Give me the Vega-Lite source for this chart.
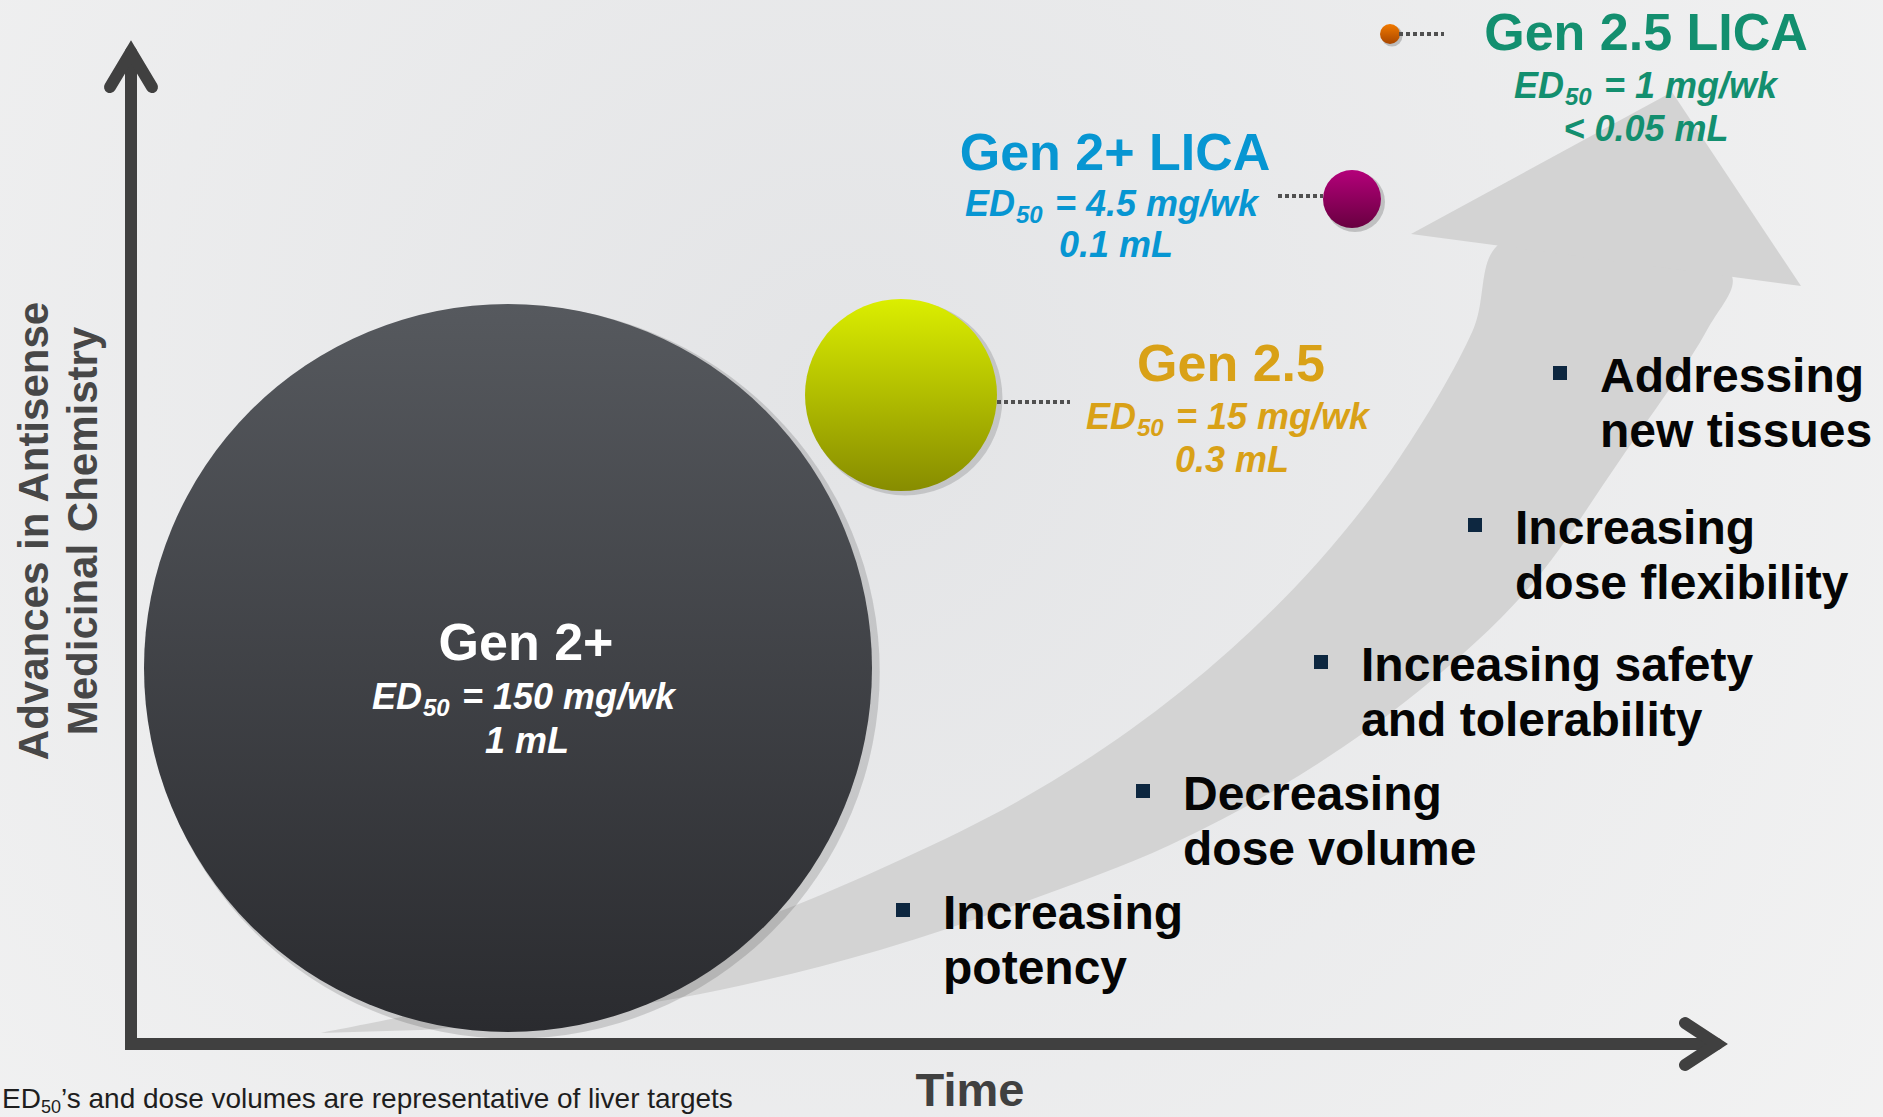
{
  "$schema": "https://vega.github.io/schema/vega-lite/v6.json",
  "width": 1883,
  "height": 1117,
  "autosize": "none",
  "padding": 0,
  "background": "#ededee",
  "view": {
    "stroke": null,
    "fill": {
      "gradient": "radial",
      "x1": 0.45, "y1": 0.42, "r1": 0,
      "x2": 0.45, "y2": 0.42, "r2": 0.75,
      "stops": [
        {"offset": 0, "color": "#e3e4e6"},
        {"offset": 1, "color": "#f4f4f4"}
      ]
    }
  },
  "config": {"font": "Liberation Sans"},
  "datasets": {
    "bandBody": [
      {"i": 0, "x": 320, "y": 1033},
      {"i": 1, "x": 480, "y": 1000},
      {"i": 2, "x": 630, "y": 960},
      {"i": 3, "x": 770, "y": 915},
      {"i": 4, "x": 900, "y": 860},
      {"i": 5, "x": 1020, "y": 800},
      {"i": 6, "x": 1130, "y": 730},
      {"i": 7, "x": 1230, "y": 650},
      {"i": 8, "x": 1320, "y": 560},
      {"i": 9, "x": 1400, "y": 457},
      {"i": 10, "x": 1473, "y": 330},
      {"i": 11, "x": 1502, "y": 242},
      {"i": 12, "x": 1731, "y": 274},
      {"i": 13, "x": 1707, "y": 330},
      {"i": 14, "x": 1620, "y": 460},
      {"i": 15, "x": 1527, "y": 590},
      {"i": 16, "x": 1420, "y": 690},
      {"i": 17, "x": 1300, "y": 775},
      {"i": 18, "x": 1170, "y": 845},
      {"i": 19, "x": 1030, "y": 900},
      {"i": 20, "x": 880, "y": 950},
      {"i": 21, "x": 720, "y": 990},
      {"i": 22, "x": 550, "y": 1018},
      {"i": 23, "x": 420, "y": 1030}
    ],
    "arrowHead": [
      {"i": 0, "x": 1411, "y": 234},
      {"i": 1, "x": 1672, "y": 92},
      {"i": 2, "x": 1801, "y": 286}
    ],
    "axes": [
      {"part": "main", "i": 0, "x": 131, "y": 52},
      {"part": "main", "i": 1, "x": 131, "y": 1044},
      {"part": "main", "i": 2, "x": 1717, "y": 1044},
      {"part": "up", "i": 0, "x": 110, "y": 87},
      {"part": "up", "i": 1, "x": 131, "y": 52},
      {"part": "up", "i": 2, "x": 152, "y": 87},
      {"part": "right", "i": 0, "x": 1685, "y": 1023},
      {"part": "right", "i": 1, "x": 1717, "y": 1044},
      {"part": "right", "i": 2, "x": 1685, "y": 1065}
    ],
    "circles": [
      {"name": "Gen 2+", "x": 508, "y": 668},
      {"name": "Gen 2.5", "x": 901, "y": 395},
      {"name": "Gen 2+ LICA", "x": 1352, "y": 199},
      {"name": "Gen 2.5 LICA", "x": 1390, "y": 34}
    ],
    "connectors": [
      {"name": "Gen 2.5", "x": 997, "x2": 1070, "y": 402},
      {"name": "Gen 2+ LICA", "x": 1278, "x2": 1323, "y": 196},
      {"name": "Gen 2.5 LICA", "x": 1399, "x2": 1444, "y": 34}
    ],
    "labels": [
      {"group": "Gen 2+", "kind": "head", "text": "Gen 2+", "x": 526, "y": 660},
      {"group": "Gen 2+", "kind": "detail", "text": "1 mL", "x": 527, "y": 753},
      {"group": "Gen 2.5", "kind": "head", "text": "Gen 2.5", "x": 1231, "y": 381},
      {"group": "Gen 2.5", "kind": "detail", "text": "0.3 mL", "x": 1232, "y": 472},
      {"group": "Gen 2+ LICA", "kind": "head", "text": "Gen 2+ LICA", "x": 1115, "y": 170},
      {"group": "Gen 2+ LICA", "kind": "detail", "text": "0.1 mL", "x": 1116, "y": 257},
      {"group": "Gen 2.5 LICA", "kind": "head", "text": "Gen 2.5 LICA", "x": 1646, "y": 50},
      {"group": "Gen 2.5 LICA", "kind": "detail", "text": "< 0.05 mL", "x": 1646, "y": 141}
    ],
    "edLines": [
      {"group": "Gen 2+", "x": 372, "y": 709, "rest": "= 150 mg/wk"},
      {"group": "Gen 2.5", "x": 1086, "y": 429, "rest": "= 15 mg/wk"},
      {"group": "Gen 2+ LICA", "x": 965, "y": 216, "rest": "= 4.5 mg/wk"},
      {"group": "Gen 2.5 LICA", "x": 1514, "y": 98, "rest": "= 1 mg/wk"}
    ],
    "bullets": [
      {"text": "Addressing\nnew tissues", "x": 1560, "y": 373},
      {"text": "Increasing\ndose flexibility", "x": 1475, "y": 525},
      {"text": "Increasing safety\nand  tolerability", "x": 1321, "y": 662},
      {"text": "Decreasing\ndose volume", "x": 1143, "y": 791},
      {"text": "Increasing\npotency", "x": 903, "y": 910}
    ],
    "axisTitles": [
      {"text": "Advances in Antisense", "x": 48, "y": 531},
      {"text": "Medicinal Chemistry", "x": 97, "y": 531}
    ],
    "timeTitle": [
      {"text": "Time", "x": 970, "y": 1106}
    ],
    "footnote": [
      {"text": "’s and dose volumes are representative of liver targets", "x": 2, "y": 1108}
    ]
  },
  "layer": [
    {
      "data": {"name": "bandBody"},
      "mark": {"type": "line", "filled": true, "fill": "#d3d3d3", "strokeWidth": 0, "interpolate": "catmull-rom"},
      "encoding": {
        "x": {"field": "x", "type": "quantitative", "scale": {"domain": [0, 1883], "nice": false, "zero": false}, "axis": null},
        "y": {"field": "y", "type": "quantitative", "scale": {"domain": [0, 1117], "nice": false, "zero": false, "reverse": true}, "axis": null},
        "order": {"field": "i", "type": "quantitative"}
      }
    },
    {
      "data": {"name": "arrowHead"},
      "mark": {"type": "line", "filled": true, "fill": "#d3d3d3", "strokeWidth": 0},
      "encoding": {
        "x": {"field": "x", "type": "quantitative", "scale": {"domain": [0, 1883], "nice": false, "zero": false}, "axis": null},
        "y": {"field": "y", "type": "quantitative", "scale": {"domain": [0, 1117], "nice": false, "zero": false, "reverse": true}, "axis": null},
        "order": {"field": "i", "type": "quantitative"}
      }
    },
    {
      "data": {"name": "axes"},
      "mark": {"type": "line", "color": "#404040", "strokeWidth": 12, "strokeCap": "round", "strokeJoin": "miter", "strokeMiterLimit": 10},
      "encoding": {
        "x": {"field": "x", "type": "quantitative", "scale": {"domain": [0, 1883], "nice": false, "zero": false}, "axis": null},
        "y": {"field": "y", "type": "quantitative", "scale": {"domain": [0, 1117], "nice": false, "zero": false, "reverse": true}, "axis": null},
        "detail": {"field": "part", "type": "nominal"},
        "order": {"field": "i", "type": "quantitative"}
      }
    },
    {
      "data": {"name": "circles"},
      "transform": [{"filter": "datum.name === 'Gen 2+'"}],
      "mark": {"type": "point", "shape": "circle", "filled": true, "fill": "#000000", "opacity": 0.14, "strokeWidth": 0, "size": 538000, "xOffset": 5, "yOffset": 4},
      "encoding": {
        "x": {"field": "x", "type": "quantitative", "scale": {"domain": [0, 1883], "nice": false, "zero": false}, "axis": null},
        "y": {"field": "y", "type": "quantitative", "scale": {"domain": [0, 1117], "nice": false, "zero": false, "reverse": true}, "axis": null}
      }
    },
    {
      "data": {"name": "circles"},
      "transform": [{"filter": "datum.name === 'Gen 2+'"}],
      "mark": {"type": "point", "shape": "circle", "filled": true, "opacity": 1, "strokeWidth": 0, "size": 529984,
        "fill": {"gradient": "linear", "x1": 0, "y1": 0, "x2": 0, "y2": 1, "stops": [{"offset": 0, "color": "#56595e"}, {"offset": 1, "color": "#2a2b2f"}]}},
      "encoding": {
        "x": {"field": "x", "type": "quantitative", "scale": {"domain": [0, 1883], "nice": false, "zero": false}, "axis": null},
        "y": {"field": "y", "type": "quantitative", "scale": {"domain": [0, 1117], "nice": false, "zero": false, "reverse": true}, "axis": null}
      }
    },
    {
      "data": {"name": "circles"},
      "transform": [{"filter": "datum.name === 'Gen 2.5'"}],
      "mark": {"type": "point", "shape": "circle", "filled": true, "fill": "#000000", "opacity": 0.14, "strokeWidth": 0, "size": 38000, "xOffset": 4, "yOffset": 3},
      "encoding": {
        "x": {"field": "x", "type": "quantitative", "scale": {"domain": [0, 1883], "nice": false, "zero": false}, "axis": null},
        "y": {"field": "y", "type": "quantitative", "scale": {"domain": [0, 1117], "nice": false, "zero": false, "reverse": true}, "axis": null}
      }
    },
    {
      "data": {"name": "circles"},
      "transform": [{"filter": "datum.name === 'Gen 2.5'"}],
      "mark": {"type": "point", "shape": "circle", "filled": true, "opacity": 1, "strokeWidth": 0, "size": 36864,
        "fill": {"gradient": "linear", "x1": 0, "y1": 0, "x2": 0, "y2": 1, "stops": [{"offset": 0, "color": "#dbee00"}, {"offset": 1, "color": "#878c00"}]}},
      "encoding": {
        "x": {"field": "x", "type": "quantitative", "scale": {"domain": [0, 1883], "nice": false, "zero": false}, "axis": null},
        "y": {"field": "y", "type": "quantitative", "scale": {"domain": [0, 1117], "nice": false, "zero": false, "reverse": true}, "axis": null}
      }
    },
    {
      "data": {"name": "circles"},
      "transform": [{"filter": "datum.name === 'Gen 2+ LICA'"}],
      "mark": {"type": "point", "shape": "circle", "filled": true, "fill": "#000000", "opacity": 0.18, "strokeWidth": 0, "size": 3600, "xOffset": 3, "yOffset": 3},
      "encoding": {
        "x": {"field": "x", "type": "quantitative", "scale": {"domain": [0, 1883], "nice": false, "zero": false}, "axis": null},
        "y": {"field": "y", "type": "quantitative", "scale": {"domain": [0, 1117], "nice": false, "zero": false, "reverse": true}, "axis": null}
      }
    },
    {
      "data": {"name": "circles"},
      "transform": [{"filter": "datum.name === 'Gen 2+ LICA'"}],
      "mark": {"type": "point", "shape": "circle", "filled": true, "opacity": 1, "strokeWidth": 0, "size": 3364,
        "fill": {"gradient": "linear", "x1": 0, "y1": 0, "x2": 0, "y2": 1, "stops": [{"offset": 0, "color": "#b4007a"}, {"offset": 1, "color": "#680040"}]}},
      "encoding": {
        "x": {"field": "x", "type": "quantitative", "scale": {"domain": [0, 1883], "nice": false, "zero": false}, "axis": null},
        "y": {"field": "y", "type": "quantitative", "scale": {"domain": [0, 1117], "nice": false, "zero": false, "reverse": true}, "axis": null}
      }
    },
    {
      "data": {"name": "circles"},
      "transform": [{"filter": "datum.name === 'Gen 2.5 LICA'"}],
      "mark": {"type": "point", "shape": "circle", "filled": true, "fill": "#000000", "opacity": 0.2, "strokeWidth": 0, "size": 440, "xOffset": 2, "yOffset": 2},
      "encoding": {
        "x": {"field": "x", "type": "quantitative", "scale": {"domain": [0, 1883], "nice": false, "zero": false}, "axis": null},
        "y": {"field": "y", "type": "quantitative", "scale": {"domain": [0, 1117], "nice": false, "zero": false, "reverse": true}, "axis": null}
      }
    },
    {
      "data": {"name": "circles"},
      "transform": [{"filter": "datum.name === 'Gen 2.5 LICA'"}],
      "mark": {"type": "point", "shape": "circle", "filled": true, "opacity": 1, "strokeWidth": 0, "size": 400,
        "fill": {"gradient": "linear", "x1": 0, "y1": 0, "x2": 0, "y2": 1, "stops": [{"offset": 0, "color": "#f27a00"}, {"offset": 1, "color": "#a84600"}]}},
      "encoding": {
        "x": {"field": "x", "type": "quantitative", "scale": {"domain": [0, 1883], "nice": false, "zero": false}, "axis": null},
        "y": {"field": "y", "type": "quantitative", "scale": {"domain": [0, 1117], "nice": false, "zero": false, "reverse": true}, "axis": null}
      }
    },
    {
      "data": {"name": "connectors"},
      "mark": {"type": "rule", "color": "#505050", "strokeWidth": 4, "strokeDash": [4, 3]},
      "encoding": {
        "x": {"field": "x", "type": "quantitative", "scale": {"domain": [0, 1883], "nice": false, "zero": false}, "axis": null},
        "x2": {"field": "x2"},
        "y": {"field": "y", "type": "quantitative", "scale": {"domain": [0, 1117], "nice": false, "zero": false, "reverse": true}, "axis": null}
      }
    },
    {
      "data": {"name": "labels"},
      "transform": [{"filter": "datum.kind === 'head'"}],
      "mark": {"type": "text", "font": "Liberation Sans", "fontWeight": "bold", "fontSize": 52, "align": "center", "baseline": "alphabetic"},
      "encoding": {
        "x": {"field": "x", "type": "quantitative", "scale": {"domain": [0, 1883], "nice": false, "zero": false}, "axis": null},
        "y": {"field": "y", "type": "quantitative", "scale": {"domain": [0, 1117], "nice": false, "zero": false, "reverse": true}, "axis": null},
        "text": {"field": "text"},
        "color": {"field": "group", "type": "nominal", "scale": {"domain": ["Gen 2+", "Gen 2.5", "Gen 2+ LICA", "Gen 2.5 LICA"], "range": ["#ffffff", "#d9a117", "#0796d2", "#138f6f"]}, "legend": null}
      }
    },
    {
      "data": {"name": "labels"},
      "transform": [{"filter": "datum.kind === 'detail'"}],
      "mark": {"type": "text", "font": "Liberation Sans", "fontWeight": "bold", "fontStyle": "italic", "fontSize": 36, "align": "center", "baseline": "alphabetic"},
      "encoding": {
        "x": {"field": "x", "type": "quantitative", "scale": {"domain": [0, 1883], "nice": false, "zero": false}, "axis": null},
        "y": {"field": "y", "type": "quantitative", "scale": {"domain": [0, 1117], "nice": false, "zero": false, "reverse": true}, "axis": null},
        "text": {"field": "text"},
        "color": {"field": "group", "type": "nominal", "scale": {"domain": ["Gen 2+", "Gen 2.5", "Gen 2+ LICA", "Gen 2.5 LICA"], "range": ["#ffffff", "#d9a117", "#0796d2", "#138f6f"]}, "legend": null}
      }
    },
    {
      "data": {"name": "edLines"},
      "mark": {"type": "text", "text": "ED", "font": "Liberation Sans", "fontWeight": "bold", "fontStyle": "italic", "fontSize": 36, "align": "left", "baseline": "alphabetic"},
      "encoding": {
        "x": {"field": "x", "type": "quantitative", "scale": {"domain": [0, 1883], "nice": false, "zero": false}, "axis": null},
        "y": {"field": "y", "type": "quantitative", "scale": {"domain": [0, 1117], "nice": false, "zero": false, "reverse": true}, "axis": null},
        "color": {"field": "group", "type": "nominal", "scale": {"domain": ["Gen 2+", "Gen 2.5", "Gen 2+ LICA", "Gen 2.5 LICA"], "range": ["#ffffff", "#d9a117", "#0796d2", "#138f6f"]}, "legend": null}
      }
    },
    {
      "data": {"name": "edLines"},
      "mark": {"type": "text", "text": "50", "font": "Liberation Sans", "fontWeight": "bold", "fontStyle": "italic", "fontSize": 24, "align": "left", "baseline": "alphabetic", "dx": 51, "dy": 7},
      "encoding": {
        "x": {"field": "x", "type": "quantitative", "scale": {"domain": [0, 1883], "nice": false, "zero": false}, "axis": null},
        "y": {"field": "y", "type": "quantitative", "scale": {"domain": [0, 1117], "nice": false, "zero": false, "reverse": true}, "axis": null},
        "color": {"field": "group", "type": "nominal", "scale": {"domain": ["Gen 2+", "Gen 2.5", "Gen 2+ LICA", "Gen 2.5 LICA"], "range": ["#ffffff", "#d9a117", "#0796d2", "#138f6f"]}, "legend": null}
      }
    },
    {
      "data": {"name": "edLines"},
      "mark": {"type": "text", "font": "Liberation Sans", "fontWeight": "bold", "fontStyle": "italic", "fontSize": 36, "align": "left", "baseline": "alphabetic", "dx": 90},
      "encoding": {
        "x": {"field": "x", "type": "quantitative", "scale": {"domain": [0, 1883], "nice": false, "zero": false}, "axis": null},
        "y": {"field": "y", "type": "quantitative", "scale": {"domain": [0, 1117], "nice": false, "zero": false, "reverse": true}, "axis": null},
        "text": {"field": "rest"},
        "color": {"field": "group", "type": "nominal", "scale": {"domain": ["Gen 2+", "Gen 2.5", "Gen 2+ LICA", "Gen 2.5 LICA"], "range": ["#ffffff", "#d9a117", "#0796d2", "#138f6f"]}, "legend": null}
      }
    },
    {
      "data": {"name": "bullets"},
      "mark": {"type": "point", "shape": "square", "filled": true, "opacity": 1, "color": "#0d2740", "size": 196, "strokeWidth": 0},
      "encoding": {
        "x": {"field": "x", "type": "quantitative", "scale": {"domain": [0, 1883], "nice": false, "zero": false}, "axis": null},
        "y": {"field": "y", "type": "quantitative", "scale": {"domain": [0, 1117], "nice": false, "zero": false, "reverse": true}, "axis": null}
      }
    },
    {
      "data": {"name": "bullets"},
      "mark": {"type": "text", "font": "Liberation Sans", "fontWeight": "bold", "fontSize": 48, "align": "left", "baseline": "alphabetic", "dx": 40, "dy": 19, "lineBreak": "\n", "lineHeight": 55, "color": "#050505"},
      "encoding": {
        "x": {"field": "x", "type": "quantitative", "scale": {"domain": [0, 1883], "nice": false, "zero": false}, "axis": null},
        "y": {"field": "y", "type": "quantitative", "scale": {"domain": [0, 1117], "nice": false, "zero": false, "reverse": true}, "axis": null},
        "text": {"field": "text"}
      }
    },
    {
      "data": {"name": "axisTitles"},
      "mark": {"type": "text", "font": "Liberation Sans", "fontWeight": "bold", "fontSize": 42, "align": "center", "baseline": "alphabetic", "angle": 270, "color": "#474747"},
      "encoding": {
        "x": {"field": "x", "type": "quantitative", "scale": {"domain": [0, 1883], "nice": false, "zero": false}, "axis": null},
        "y": {"field": "y", "type": "quantitative", "scale": {"domain": [0, 1117], "nice": false, "zero": false, "reverse": true}, "axis": null},
        "text": {"field": "text"}
      }
    },
    {
      "data": {"name": "timeTitle"},
      "mark": {"type": "text", "font": "Liberation Sans", "fontWeight": "bold", "fontSize": 47, "align": "center", "baseline": "alphabetic", "color": "#404040"},
      "encoding": {
        "x": {"field": "x", "type": "quantitative", "scale": {"domain": [0, 1883], "nice": false, "zero": false}, "axis": null},
        "y": {"field": "y", "type": "quantitative", "scale": {"domain": [0, 1117], "nice": false, "zero": false, "reverse": true}, "axis": null},
        "text": {"field": "text"}
      }
    },
    {
      "data": {"name": "footnote"},
      "mark": {"type": "text", "text": "ED", "font": "Liberation Sans", "fontSize": 28, "align": "left", "baseline": "alphabetic", "color": "#1e1e1e"},
      "encoding": {
        "x": {"field": "x", "type": "quantitative", "scale": {"domain": [0, 1883], "nice": false, "zero": false}, "axis": null},
        "y": {"field": "y", "type": "quantitative", "scale": {"domain": [0, 1117], "nice": false, "zero": false, "reverse": true}, "axis": null}
      }
    },
    {
      "data": {"name": "footnote"},
      "mark": {"type": "text", "text": "50", "font": "Liberation Sans", "fontSize": 18, "align": "left", "baseline": "alphabetic", "color": "#1e1e1e", "dx": 39, "dy": 5},
      "encoding": {
        "x": {"field": "x", "type": "quantitative", "scale": {"domain": [0, 1883], "nice": false, "zero": false}, "axis": null},
        "y": {"field": "y", "type": "quantitative", "scale": {"domain": [0, 1117], "nice": false, "zero": false, "reverse": true}, "axis": null}
      }
    },
    {
      "data": {"name": "footnote"},
      "mark": {"type": "text", "font": "Liberation Sans", "fontSize": 28, "align": "left", "baseline": "alphabetic", "color": "#1e1e1e", "dx": 59},
      "encoding": {
        "x": {"field": "x", "type": "quantitative", "scale": {"domain": [0, 1883], "nice": false, "zero": false}, "axis": null},
        "y": {"field": "y", "type": "quantitative", "scale": {"domain": [0, 1117], "nice": false, "zero": false, "reverse": true}, "axis": null},
        "text": {"field": "text"}
      }
    }
  ]
}
